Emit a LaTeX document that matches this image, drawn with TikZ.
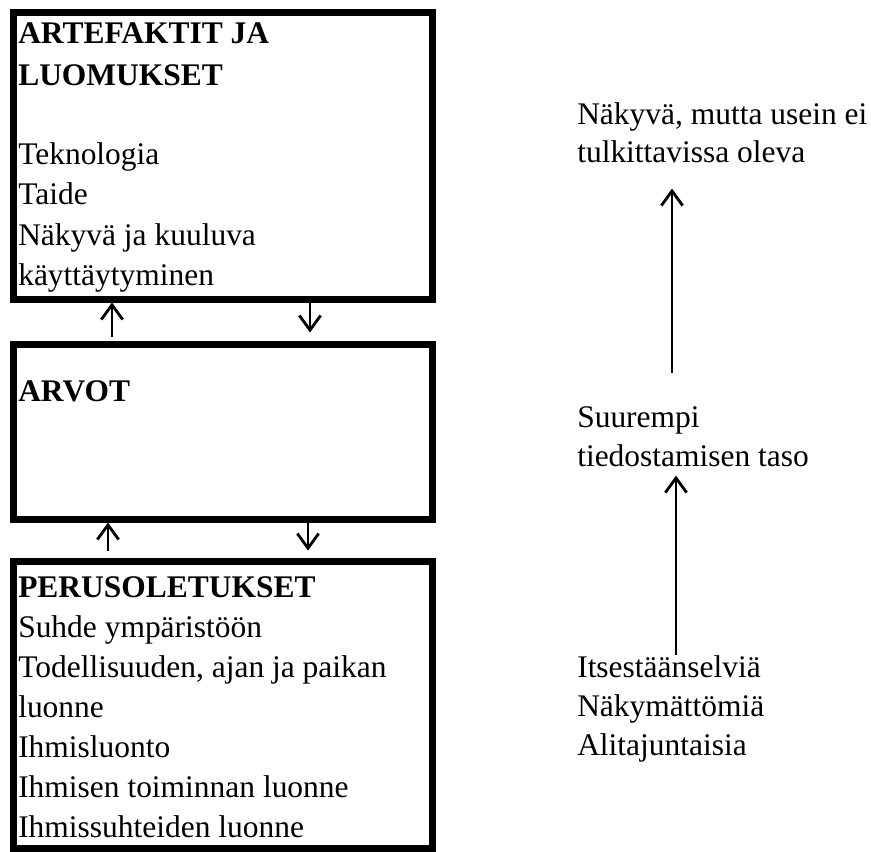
\documentclass[tikz,border=0pt]{standalone}
\usepackage{fontspec}
\setmainfont{Liberation Serif}
\usetikzlibrary{arrows.meta}
\tikzset{
	box/.style={draw, line width=5.25pt, line join=miter, minimum width=314.6pt, inner sep=0pt},
	txt/.style={anchor=base west, inner sep=0pt},
	arr/.style={->, line width=2.1pt}
}
\begin{document}
\begin{tikzpicture}[x=0.75pt, y=-0.75pt, font=\fontsize{23.6}{30}\selectfont, >={Straight Barb[length=11pt,width=16pt]}]
	\useasboundingbox (0,0) rectangle (871,852);
	% boxes
	\node[box, minimum height=214.9pt] (artefaktit) at (222.75,155.75) {};
	\node[box, minimum height=131.25pt] (arvot) at (222.75,431.5) {};
	\node[box, minimum height=215.6pt] (perus) at (222.75,705.25) {};
	% texts in the boxes
	\path (18,44) node[txt] (a1) {\bfseries ARTEFAKTIT JA};
	\path (18,86) node[txt] (a2) {\bfseries LUOMUKSET};
	\path (18,165) node[txt] (a3) {Teknologia};
	\path (18,205) node[txt] (a4) {Taide};
	\path (18,246) node[txt] (a5) {Näkyvä ja kuuluva};
	\path (18,286) node[txt] (a6) {käyttäytyminen};
	\path (18,401) node[txt] (b1) {\bfseries ARVOT};
	\path (18,597) node[txt] (c1) {\bfseries PERUSOLETUKSET};
	\path (18,637) node[txt] (c2) {Suhde ympäristöön};
	\path (18,677) node[txt] (c3) {Todellisuuden, ajan ja paikan};
	\path (18,717) node[txt] (c4) {luonne};
	\path (18,757) node[txt] (c5) {Ihmisluonto};
	\path (18,797) node[txt] (c6) {Ihmisen toiminnan luonne};
	\path (18,837) node[txt] (c7) {Ihmissuhteiden luonne};
	% texts on the right
	\path (577,125) node[txt] (n1) {Näkyvä, mutta usein ei};
	\path (577,163) node[txt] (n2) {tulkittavissa oleva};
	\path (577,427) node[txt] (s1) {Suurempi};
	\path (577,466) node[txt] (s2) {tiedostamisen taso};
	\path (577,677) node[txt] (i1) {Itsestäänselviä};
	\path (577,716) node[txt] (i2) {Näkymättömiä};
	\path (577,755) node[txt] (i3) {Alitajuntaisia};
	% arrows between the boxes
	\draw[arr, shorten <=3pt] (arvot.north -| 112,0) -- (artefaktit.south -| 112,0);
	\draw[arr, shorten >=6pt] (artefaktit.south -| 310,0) -- (arvot.north -| 310,0);
	\draw[arr, shorten <=5pt] (perus.north -| 108,0) -- (arvot.south -| 108,0);
	\draw[arr, shorten >=5.6pt] (arvot.south -| 308,0) -- (perus.north -| 308,0);
	% arrows on the right
	\draw[arr, shorten <=25pt, shorten >=18.75pt] (s1.north -| 672,0) -- (n2.south -| 672,0);
	\draw[arr, shorten >=6.75pt] (i1.north -| 676,0) -- (s2.south -| 676,0);
\end{tikzpicture}
\end{document}
